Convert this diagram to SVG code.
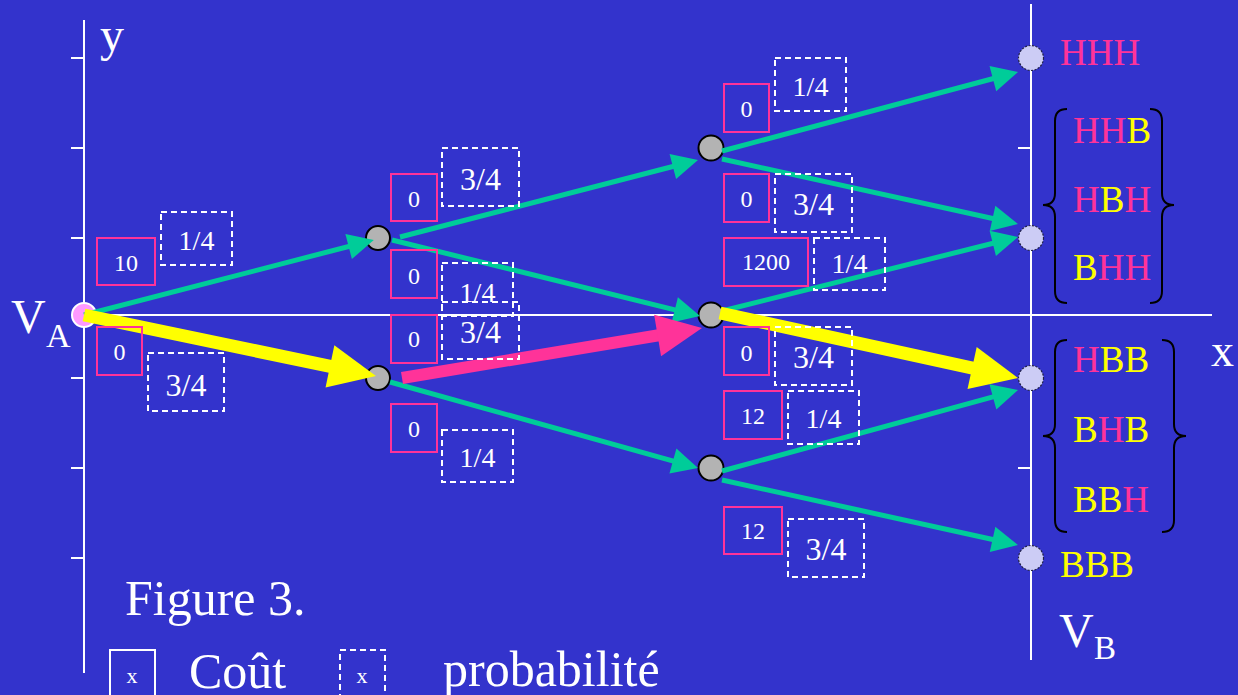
<svg xmlns="http://www.w3.org/2000/svg" width="1238" height="695" viewBox="0 0 1238 695">
<style>
.ax{stroke:#FFFFFF;stroke-width:2;fill:none}
.tick{stroke:#FFFFFF;stroke-width:2}
.cost{fill:none;stroke:#FF3399;stroke-width:2}
.prob{fill:none;stroke:#FFFFFF;stroke-width:2;stroke-dasharray:6 4}
.t{font-family:"Liberation Serif","Times New Roman",serif;fill:#FFFFFF;text-anchor:middle}
.c{font-size:24px}
.q{font-size:28px}
.tq{font-size:32px}
.big{font-family:"Liberation Serif","Times New Roman",serif;fill:#FFFFFF}
.lab{font-family:"Liberation Serif","Times New Roman",serif;font-size:37px;fill:#FF3399}
.y{fill:#FFFF00}
.g{stroke:#00CC99;stroke-width:5;fill:none;marker-end:url(#hg)}
.gray{fill:#B3B3B3;stroke:#000000;stroke-width:2}
.term{fill:#CCCCF5;stroke:#222244;stroke-width:1.2;stroke-dasharray:2 1.5}
.brace{fill:none;stroke:#000000;stroke-width:2}
</style>
<defs>
<marker id="hg" markerUnits="userSpaceOnUse" markerWidth="26" markerHeight="26" refX="20" refY="13" orient="auto" overflow="visible">
<path d="M0,0 L26,13 L0,26 z" fill="#00CC99"/>
</marker>
<marker id="hy" markerUnits="userSpaceOnUse" markerWidth="47" markerHeight="43" refX="31" refY="21.5" orient="auto" overflow="visible">
<path d="M0,0 L47,21.5 L0,43 z" fill="#FFFF00"/>
</marker>
<marker id="hp" markerUnits="userSpaceOnUse" markerWidth="45" markerHeight="42" refX="30" refY="21" orient="auto" overflow="visible">
<path d="M0,0 L45,21 L0,42 z" fill="#FF3399"/>
</marker>
</defs>
<rect x="0" y="0" width="1238" height="695" fill="#3333CC"/>

<g id="axes">
<line class="ax" x1="84" y1="20" x2="84" y2="673"/>
<line class="ax" x1="84" y1="315" x2="1212" y2="315" stroke-width="1.5"/>
<line class="ax" x1="1031" y1="4" x2="1031" y2="660"/>
<g class="tick">
<line x1="71" y1="58" x2="84" y2="58"/>
<line x1="71" y1="148" x2="84" y2="148"/>
<line x1="71" y1="238" x2="84" y2="238"/>
<line x1="71" y1="378" x2="84" y2="378"/>
<line x1="71" y1="468" x2="84" y2="468"/>
<line x1="71" y1="558" x2="84" y2="558"/>
<line x1="1018" y1="58" x2="1031" y2="58"/>
<line x1="1018" y1="148" x2="1031" y2="148"/>
<line x1="1018" y1="238" x2="1031" y2="238"/>
<line x1="1018" y1="378" x2="1031" y2="378"/>
<line x1="1018" y1="468" x2="1031" y2="468"/>
<line x1="1018" y1="558" x2="1031" y2="558"/>
</g>
<text class="big" x="100" y="51" font-size="48">y</text>
<text class="big" x="1211" y="366" font-size="46">x</text>
<text class="big" x="11" y="333" font-size="48">V</text>
<text class="big" x="46" y="347" font-size="34">A</text>
<text class="big" x="1059" y="647" font-size="48">V</text>
<text class="big" x="1094" y="659" font-size="33">B</text>
</g>

<g id="VA"><circle cx="84" cy="315" r="12" fill="#FF99FF" stroke="#FFFFFF" stroke-width="2"/></g>
<g id="n1a"><circle class="gray" cx="378" cy="238" r="12"/></g>
<g id="n1b"><circle class="gray" cx="378" cy="378" r="12"/></g>
<g id="n2a"><circle class="gray" cx="711" cy="148" r="12.5"/></g>
<g id="n2b"><circle class="gray" cx="711" cy="315" r="12.5"/></g>
<g id="n2c"><circle class="gray" cx="711" cy="468" r="12.5"/></g>

<g id="connectors">
<line class="g" x1="84" y1="315" x2="368" y2="241.5"/>
<line class="g" x1="400" y1="237" x2="692.2" y2="161.5"/>
<line class="g" x1="392" y1="240" x2="694.2" y2="314.6"/>
<line class="g" x1="390" y1="382" x2="692.2" y2="466.4"/>
<line class="g" x1="722" y1="151" x2="1012.2" y2="73.5"/>
<line class="g" x1="722" y1="159" x2="1012.1" y2="222.7"/>
<line class="g" x1="722" y1="311" x2="1012.2" y2="238.5"/>
<line class="g" x1="722" y1="471" x2="1012.2" y2="391.6"/>
<line class="g" x1="722" y1="480" x2="1012.1" y2="543.7"/>
<line x1="84" y1="315" x2="360.3" y2="372.7" stroke="#FFFF00" stroke-width="13" marker-end="url(#hy)"/>
<line x1="720" y1="313" x2="1002.4" y2="374.6" stroke="#FFFF00" stroke-width="13" marker-end="url(#hy)"/>
<line x1="402" y1="378" x2="687.2" y2="330.5" stroke="#FF3399" stroke-width="12" marker-end="url(#hp)"/>
</g>

<g id="t1"><circle class="term" cx="1031" cy="58" r="12.5"/><text class="lab" x="1060" y="65">HHH</text></g>
<g id="t2"><circle class="term" cx="1031" cy="238" r="12.5"/>
<text class="lab" x="1073" y="143">HH<tspan class="y">B</tspan></text>
<text class="lab" x="1073" y="212">H<tspan class="y">B</tspan>H</text>
<text class="lab" x="1073" y="280"><tspan class="y">B</tspan>HH</text>
<path class="brace" d="M1067,109 Q1055,109 1055,121 L1055,193 Q1055,205 1043,205 Q1055,205 1055,217 L1055,291 Q1055,303 1067,303"/>
<path class="brace" d="M1150,109 Q1162,109 1162,121 L1162,193 Q1162,205 1174,205 Q1162,205 1162,217 L1162,291 Q1162,303 1150,303"/>
</g>
<g id="t3"><circle class="term" cx="1031" cy="378" r="12.5"/>
<text class="lab" x="1073" y="372">H<tspan class="y">BB</tspan></text>
<text class="lab" x="1073" y="442"><tspan class="y">B</tspan>H<tspan class="y">B</tspan></text>
<text class="lab" x="1073" y="512"><tspan class="y">BB</tspan>H</text>
<path class="brace" d="M1067,340 Q1055,340 1055,352 L1055,424 Q1055,436 1043,436 Q1055,436 1055,448 L1055,520 Q1055,532 1067,532"/>
<path class="brace" d="M1162,340 Q1174,340 1174,352 L1174,424 Q1174,436 1186,436 Q1174,436 1174,448 L1174,520 Q1174,532 1162,532"/>
</g>
<g id="t4"><circle class="term" cx="1031" cy="558" r="12.5"/><text class="lab y" x="1060" y="577">BBB</text></g>

<g id="labels">
<rect class="cost" x="97" y="238" width="58" height="47"/><text class="t c" x="126" y="271">10</text>
<rect class="prob" x="161" y="212" width="71" height="53"/><text class="t q" x="196.5" y="250">1/4</text>
<rect class="cost" x="97" y="327" width="45" height="48"/><text class="t c" x="119.5" y="360">0</text>
<rect class="prob" x="148" y="353" width="76" height="58"/><text class="t tq" x="186" y="396">3/4</text>

<rect class="cost" x="391" y="174" width="46" height="47"/><text class="t c" x="414" y="207">0</text>
<rect class="prob" x="442" y="148" width="77" height="58"/><text class="t tq" x="480.5" y="190">3/4</text>
<rect class="cost" x="391" y="250" width="46" height="48"/><text class="t c" x="414" y="284">0</text>
<rect class="prob" x="442" y="263" width="71" height="53"/><text class="t q" x="477.5" y="302">1/4</text>
<rect class="cost" x="391" y="315" width="46" height="48"/><text class="t c" x="414" y="347">0</text>
<rect class="prob" x="442" y="302" width="77" height="57"/><text class="t tq" x="480.5" y="343">3/4</text>
<rect class="cost" x="391" y="404" width="46" height="48"/><text class="t c" x="414" y="437">0</text>
<rect class="prob" x="442" y="430" width="71" height="52"/><text class="t q" x="477.5" y="467">1/4</text>

<rect class="cost" x="724" y="84" width="45" height="48"/><text class="t c" x="746.5" y="117">0</text>
<rect class="prob" x="775" y="58" width="71" height="53"/><text class="t q" x="810.5" y="96">1/4</text>
<rect class="cost" x="724" y="174" width="45" height="48"/><text class="t c" x="746.5" y="207">0</text>
<rect class="prob" x="775" y="174" width="77" height="58"/><text class="t tq" x="813.5" y="215">3/4</text>
<rect class="cost" x="724" y="238" width="84" height="48"/><text class="t c" x="766" y="270">1200</text>
<rect class="prob" x="814" y="238" width="71" height="52"/><text class="t q" x="849.5" y="273">1/4</text>
<rect class="cost" x="724" y="327" width="45" height="48"/><text class="t c" x="746.5" y="361">0</text>
<rect class="prob" x="775" y="327" width="77" height="58"/><text class="t tq" x="813.5" y="368">3/4</text>
<rect class="cost" x="724" y="391" width="58" height="48"/><text class="t c" x="753" y="424">12</text>
<rect class="prob" x="788" y="391" width="71" height="53"/><text class="t q" x="823.5" y="428">1/4</text>
<rect class="cost" x="724" y="507" width="58" height="47"/><text class="t c" x="753" y="539">12</text>
<rect class="prob" x="788" y="519" width="76" height="58"/><text class="t tq" x="826" y="560">3/4</text>
</g>

<g id="legend">
<text class="big" x="125" y="615" font-size="50">Figure 3.</text>
<rect x="110" y="650" width="45" height="60" fill="none" stroke="#FFFFFF" stroke-width="2"/>
<text class="t" x="132" y="683" font-size="22">x</text>
<text class="big" x="189" y="688" font-size="50">Coût</text>
<rect class="prob" x="340" y="650" width="45" height="60"/>
<text class="t" x="362" y="683" font-size="22">x</text>
<text class="big" x="443" y="686" font-size="50">probabilité</text>
</g>
</svg>
